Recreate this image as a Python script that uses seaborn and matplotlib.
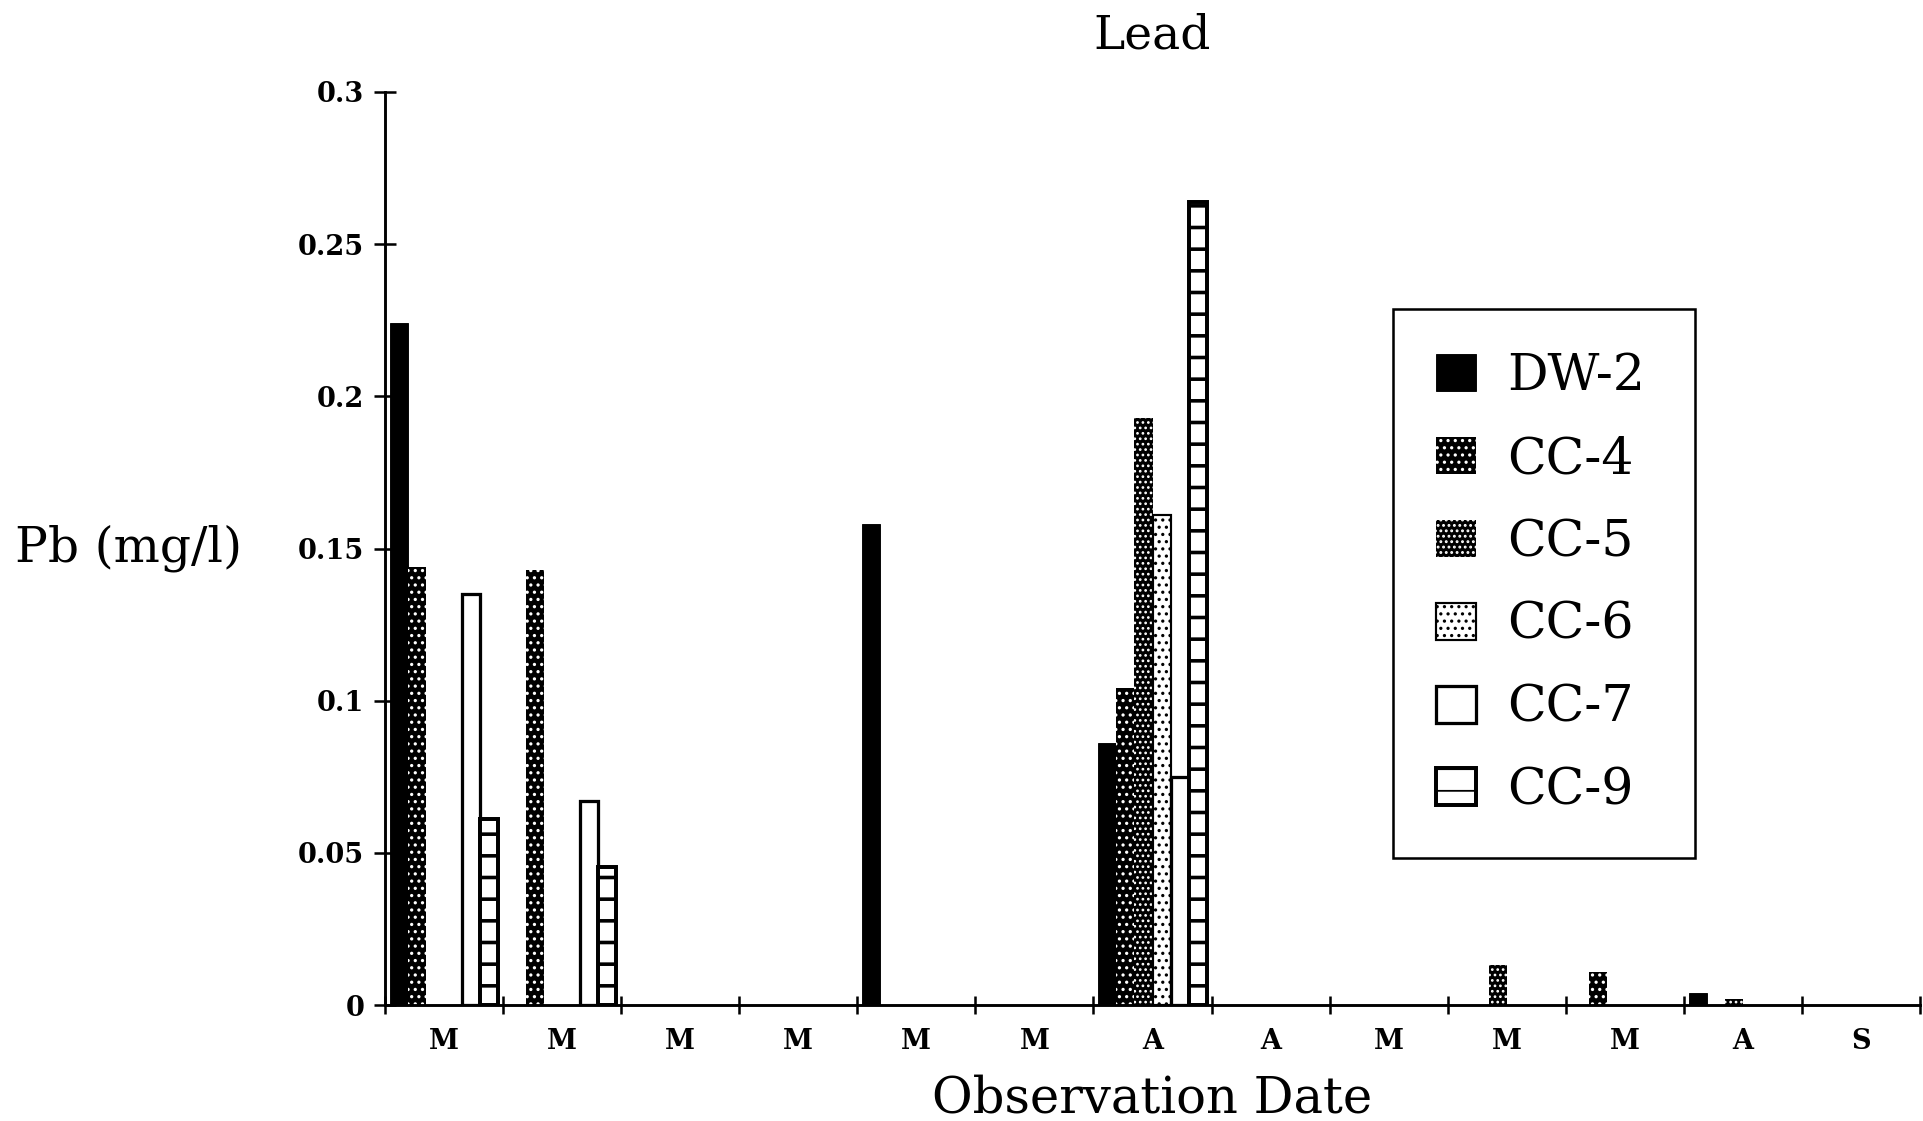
import numpy as np
import pandas as pd
import matplotlib
matplotlib.use("Agg")
import matplotlib.pyplot as plt
import seaborn as sns
from matplotlib.patches import Patch
from matplotlib.ticker import FixedLocator

# ---------------- data ----------------
observation = [1, 2, 3, 4, 5, 6, 7, 8, 9, 10, 11, 12, 13]
month_labels = ["M", "M", "M", "M", "M", "M", "A", "A", "M", "M", "M", "A", "S"]
stations = ["DW-2", "CC-4", "CC-5", "CC-6", "CC-7", "CC-9"]

dw2 = [0.224, 0, 0, 0, 0.158, 0, 0.086, 0, 0, 0, 0, 0.004, 0]
cc4 = [0.144, 0.143, 0, 0, 0, 0, 0.104, 0, 0, 0, 0.011, 0, 0]
cc5 = [0, 0, 0, 0, 0, 0, 0.193, 0, 0, 0.013, 0, 0.002, 0]
cc6 = [0, 0, 0, 0, 0, 0, 0.161, 0, 0, 0, 0, 0, 0]
cc7 = [0.135, 0.067, 0, 0, 0, 0, 0.075, 0, 0, 0, 0, 0, 0]
cc9 = [0.061, 0.0455, 0, 0, 0, 0, 0.264, 0, 0, 0, 0, 0, 0]

y_ticks = [0, 0.05, 0.1, 0.15, 0.2, 0.25, 0.3]
y_tick_labels = ["0", "0.05", "0.1", "0.15", "0.2", "0.25", "0.3"]

series_values = [dw2, cc4, cc5, cc6, cc7, cc9]
df = pd.DataFrame({
    "observation": np.tile(observation, len(stations)),
    "station": np.repeat(stations, len(observation)),
    "pb": np.concatenate(series_values),
})

# ---------------- style ----------------
sns.set_theme(style="white")
plt.rcParams["font.family"] = ["DejaVu Serif"]
plt.rcParams["hatch.linewidth"] = 1.0
plt.rcParams["text.color"] = "black"
plt.rcParams["axes.labelcolor"] = "black"
plt.rcParams["xtick.color"] = "black"
plt.rcParams["ytick.color"] = "black"

styles = {
    "DW-2": dict(facecolor="black", edgecolor="black", hatch=None, linewidth=0.5, hlw=1.0),
    "CC-4": dict(facecolor="black", edgecolor="white", hatch="...", linewidth=0, hlw=1.0),
    "CC-5": dict(facecolor="black", edgecolor="white", hatch="....", linewidth=0, hlw=0.9),
    "CC-6": dict(facecolor="white", edgecolor="black", hatch="...", linewidth=1.2, hlw=1.0),
    "CC-7": dict(facecolor="white", edgecolor="black", hatch=None, linewidth=1.8, hlw=1.0),
    "CC-9": dict(facecolor="white", edgecolor="black", hatch="-", linewidth=2.2, hlw=2.0),
}


def apply_style(p, st):
    p.set_facecolor(st["facecolor"])
    p.set_edgecolor(st["edgecolor"])
    p.set_linewidth(st["linewidth"])
    if st["hatch"]:
        p.set_hatch(st["hatch"])
        if hasattr(p, "set_hatch_linewidth"):
            p.set_hatch_linewidth(st["hlw"])


DPI = 130
fig = plt.figure(figsize=(1923 / DPI, 1121 / DPI), dpi=DPI)
fig.patch.set_facecolor("white")
ax = fig.add_axes([385 / 1923, 1 - 1005 / 1121, 1535 / 1923, 913 / 1121])

sns.barplot(data=df, x="observation", y="pb", hue="station",
            order=observation, hue_order=stations, width=0.92, gap=0,
            dodge=True, errorbar=None, saturation=1, legend=False, ax=ax)

for container, name in zip(ax.containers, stations):
    for bar in container:
        apply_style(bar, styles[name])
        if bar.get_height() == 0:
            bar.set_visible(False)

ax.set_xlim(-0.5, len(observation) - 0.5)
ax.set_ylim(0, 0.3)

# spines
for s in ["top", "right"]:
    ax.spines[s].set_visible(False)
for s in ["left", "bottom"]:
    ax.spines[s].set_linewidth(1.6)
    ax.spines[s].set_color("black")

# y ticks
ax.set_yticks(y_ticks)
ax.set_yticklabels(y_tick_labels, fontsize=15, fontweight="bold", color="black")
ax.tick_params(axis="y", direction="inout", length=12, width=1.4, pad=5.5,
               colors="black", left=True)

# x ticks
ax.set_xticks(range(len(observation)))
ax.set_xticklabels(month_labels, fontsize=15, fontweight="bold", color="black")
ax.tick_params(axis="x", which="major", length=0, pad=13, colors="black")
ax.xaxis.set_minor_locator(FixedLocator(np.arange(-0.5, len(observation), 1.0)))
ax.tick_params(axis="x", which="minor", direction="inout", length=10.5,
               width=1.4, colors="black", bottom=True)

ax.grid(False)

# labels
ax.set_title("Lead", fontsize=26, y=(1005 - 36) / 913, va="center", pad=0,
             color="black")
ax.set_xlabel("Observation Date", fontsize=27.5, color="black")
ax.xaxis.set_label_coords(0.5, (1005 - 1099) / 913)
ax.xaxis.label.set_va("center")
ax.set_ylabel("Pb (mg/l)", fontsize=27, rotation=0, ha="left", va="center",
              color="black")
ax.yaxis.set_label_coords((15 - 385) / 1535, 0.5)

# legend
handles = []
for name in stations:
    st = styles[name]
    h = Patch(label=name)
    apply_style(h, st)
    handles.append(h)
leg = ax.legend(handles=handles, loc="upper left",
                bbox_to_anchor=((1393 - 385) / 1535, (1005 - 852) / 913,
                                302 / 1535, (852 - 309) / 913),
                mode="expand", fontsize=28, frameon=True, fancybox=False,
                shadow=False, borderpad=0.85, labelspacing=0.66,
                handlelength=0.8, handleheight=0.75, handletextpad=0.6,
                borderaxespad=0, labelcolor="black")
frame = leg.get_frame()
frame.set_edgecolor("black")
frame.set_linewidth(1.4)
frame.set_facecolor("white")
frame.set_alpha(1)

fig.savefig("out.png", dpi=DPI, facecolor="white")
